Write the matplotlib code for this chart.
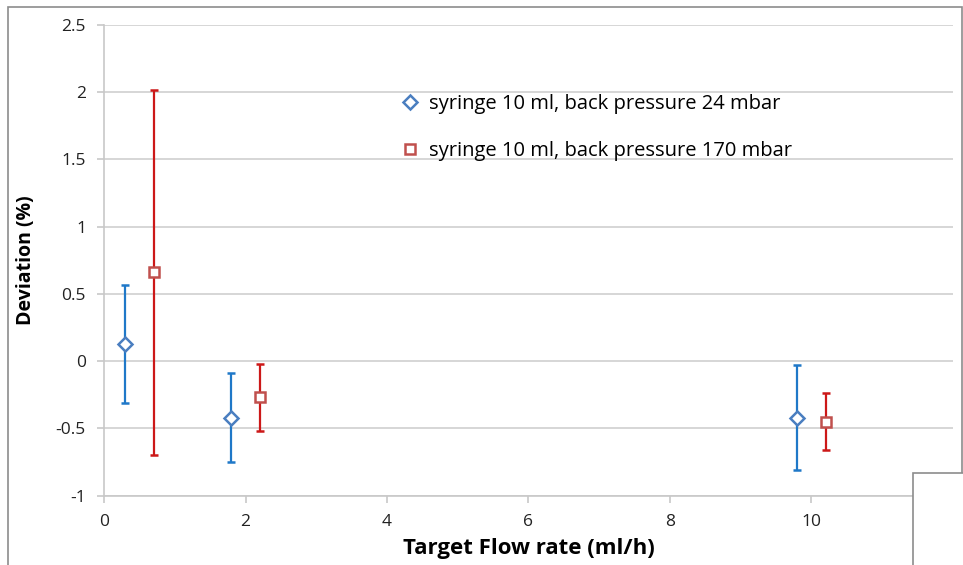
import numpy as np
import matplotlib
matplotlib.use("Agg")
import matplotlib.pyplot as plt
from matplotlib.patches import Rectangle

plt.rcParams['font.family'] = ['Open Sans', 'DejaVu Sans']

# measured flow deviation per target flow rate
flow_24 = [0.3, 1.8, 9.8]
dev_24 = [0.13, -0.42, -0.42]
err_24 = [0.44, 0.33, 0.39]

flow_170 = [0.7, 2.2, 10.2]
dev_170 = [0.66, -0.27, -0.45]
err_170 = [1.36, 0.25, 0.21]

labels = ["syringe 10 ml, back pressure 24 mbar",
          "syringe 10 ml, back pressure 170 mbar"]

fig = plt.figure(figsize=(9.63, 5.65), dpi=100)
ax = fig.add_axes([0.108, 0.1227, 0.8816, 0.8331])

ax.errorbar(flow_24, dev_24, yerr=err_24, fmt='D', color='#1f78c8',
            mfc='white', mec='#4a7ec0', mew=1.8, ms=7, ecolor='#1f78c8',
            elinewidth=1.6, capsize=3, capthick=1.6, label=labels[0], zorder=3)
ax.errorbar(flow_170, dev_170, yerr=err_170, fmt='s', color='#cc1818',
            mfc='white', mec='#c0504d', mew=1.8, ms=7, ecolor='#cc1818',
            elinewidth=1.6, capsize=3, capthick=1.6, label=labels[1], zorder=3)

ax.set_xlim(0, 12)
ax.set_ylim(-1, 2.5)
ax.set_xticks([0, 2, 4, 6, 8, 10])
ax.set_yticks([-1, -0.5, 0, 0.5, 1, 1.5, 2, 2.5])
ax.set_yticklabels(['-1', '-0.5', '0', '0.5', '1', '1.5', '2', '2.5'])
ax.grid(axis='y', color='#d0d0d0', linewidth=1.2)
ax.set_axisbelow(True)

for side in ['top', 'right']:
    ax.spines[side].set_visible(False)
for side in ['left', 'bottom']:
    ax.spines[side].set_color('#c8c8c8')
    ax.spines[side].set_linewidth(1.2)
ax.tick_params(axis='both', colors='#c8c8c8', labelcolor='#222222',
               labelsize=12.5, length=5, width=1.2)
ax.tick_params(axis='y', pad=8)
ax.tick_params(axis='x', pad=8)

ax.set_xlabel("Target Flow rate (ml/h)", fontsize=16, fontweight='bold', labelpad=6)
ax.set_ylabel("Deviation (%)", fontsize=14, fontweight='bold', labelpad=14)

handles, _ = ax.get_legend_handles_labels()
handles = [h[0] for h in handles]
ax.legend(handles, labels, loc='upper left', bbox_to_anchor=(0.342, 0.871),
          frameon=False, fontsize=14.5, labelspacing=1.35, handlelength=0.8,
          handletextpad=0.5, borderaxespad=0)

# outer chart frame and the box in the lower right corner
fig.patches.append(Rectangle((8 / 963, -0.01), 954 / 963, 1 - 7 / 565 + 0.01,
                             transform=fig.transFigure, fill=False,
                             edgecolor='#8c8c8c', linewidth=1.2))
fig.patches.append(Rectangle((913 / 963, -0.01), 60 / 963, 1 - 473 / 565 + 0.01,
                             transform=fig.transFigure, fill=True, facecolor='white',
                             edgecolor='#8c8c8c', linewidth=1.2, zorder=5))

fig.savefig("out.png", dpi=100)
